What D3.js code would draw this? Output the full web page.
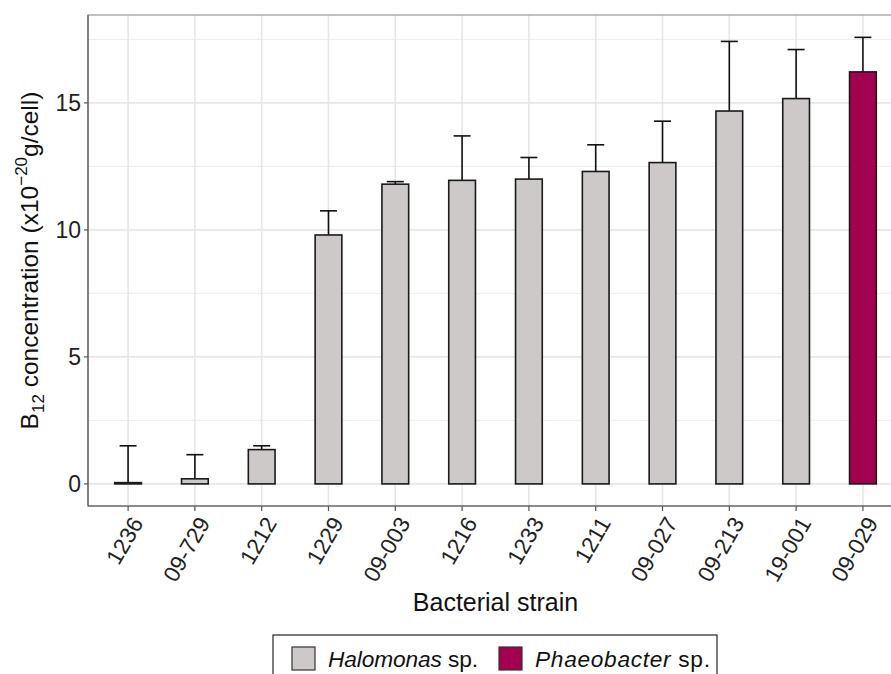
<!DOCTYPE html>
<html><head><meta charset="utf-8">
<script src="https://cdn.jsdelivr.net/npm/d3@7"></script>
<style>body{margin:0;background:#fff}svg{display:block;font-family:"Liberation Sans",Arial,sans-serif}</style>
</head><body><svg id="c" width="891" height="674"></svg>
<script>
const strains = ["1236","09-729","1212","1229","09-003","1216","1233","1211","09-027","09-213","19-001","09-029"];
const means   = [0.05,0.2,1.35,9.8,11.8,11.95,12.0,12.3,12.65,14.68,15.17,16.22];
const upper   = [1.5,1.15,1.5,10.75,11.9,13.7,12.85,13.35,14.28,17.42,17.1,17.58];
const genus   = ["Halomonas","Halomonas","Halomonas","Halomonas","Halomonas","Halomonas","Halomonas","Halomonas","Halomonas","Halomonas","Halomonas","Phaeobacter"];
const yTicks  = [0,5,10,15];
const legendNames = ["Halomonas","Phaeobacter"];
const colors = {Halomonas:"#cdc9c9", Phaeobacter:"#a3004f"};

const svg = d3.select("#c");
const L=88, T=15, R=903, B=506;
// ggplot-style discrete expansion: 0.6 units on each side
const x = d3.scalePoint().domain(strains).range([L,R]).padding(0.6);
const step = x.step();
const y = d3.scaleLinear().domain([-0.87,18.46]).range([B,T]);

// grid
const g = svg.append("g");
[2.5,7.5,12.5,17.5].forEach(v=>g.append("line").attr("x1",L).attr("x2",R).attr("y1",y(v)).attr("y2",y(v)).attr("stroke","#ececec").attr("stroke-width",1));
yTicks.forEach(v=>g.append("line").attr("x1",L).attr("x2",R).attr("y1",y(v)).attr("y2",y(v)).attr("stroke","#e6e6e6").attr("stroke-width",1.6));
strains.forEach(s=>g.append("line").attr("x1",x(s)).attr("x2",x(s)).attr("y1",T).attr("y2",B).attr("stroke","#e6e6e6").attr("stroke-width",1.6));

const bw = step*0.4, cap = 17;
// error bars
strains.forEach((s,i)=>{
  const cx = x(s);
  svg.append("line").attr("x1",cx).attr("x2",cx).attr("y1",y(means[i])).attr("y2",y(upper[i])).attr("stroke","#111").attr("stroke-width",1.6);
  svg.append("line").attr("x1",cx-cap/2).attr("x2",cx+cap/2).attr("y1",y(upper[i])).attr("y2",y(upper[i])).attr("stroke","#111").attr("stroke-width",1.6);
});
// bars
svg.selectAll("rect.bar").data(strains).enter().append("rect").attr("class","bar")
  .attr("x",d=>x(d)-bw/2).attr("width",bw)
  .attr("y",(d,i)=>y(means[i])).attr("height",(d,i)=>y(0)-y(means[i]))
  .attr("fill",(d,i)=>colors[genus[i]]).attr("stroke","#1a1a1a").attr("stroke-width",1.6);

// panel border
svg.append("rect").attr("x",L).attr("y",T).attr("width",R-L).attr("height",B-T).attr("fill","none").attr("stroke","#999").attr("stroke-width",1.2);
svg.append("line").attr("x1",L).attr("x2",L).attr("y1",T).attr("y2",B).attr("stroke","#555").attr("stroke-width",1.2);
svg.append("line").attr("x1",L).attr("x2",R).attr("y1",B).attr("y2",B).attr("stroke","#555").attr("stroke-width",1.2);

// y axis ticks
yTicks.forEach(v=>{
  svg.append("line").attr("x1",L-4).attr("x2",L).attr("y1",y(v)).attr("y2",y(v)).attr("stroke","#555").attr("stroke-width",1.2);
  svg.append("text").attr("x",L-7).attr("y",y(v)).attr("dy","0.36em").attr("text-anchor","end").attr("font-size",23).attr("fill","#222").text(v);
});
// x ticks
strains.forEach(s=>{
  svg.append("line").attr("x1",x(s)).attr("x2",x(s)).attr("y1",B).attr("y2",B+5).attr("stroke","#555").attr("stroke-width",1.2);
  svg.append("text").attr("transform",`translate(${x(s)+9},${B+13}) rotate(-60)`).attr("text-anchor","end").attr("dy","0.35em").attr("font-size",22.5).attr("fill","#222").text(s);
});
// axis titles
svg.append("text").attr("x",495.5).attr("y",611).attr("text-anchor","middle").attr("font-size",25).attr("fill","#111").text("Bacterial strain");
const yt = svg.append("text").attr("transform",`translate(38,${(T+B)/2}) rotate(-90)`).attr("text-anchor","middle").attr("font-size",24.5).attr("fill","#111");
yt.append("tspan").text("B");
yt.append("tspan").attr("font-size",17).attr("dy",6).text("12");
yt.append("tspan").attr("dy",-6).text(" concentration (x10");
yt.append("tspan").attr("font-size",17).attr("dy",-11).text("\u221220");
yt.append("tspan").attr("dy",11).text("g/cell)");

// legend
svg.append("rect").attr("x",273).attr("y",635).attr("width",444).attr("height",50).attr("fill","#fff").attr("stroke","#222").attr("stroke-width",1.2);
const lx = [292, 499];
const lw = [150, 175];
legendNames.forEach((n,i)=>{
  svg.append("rect").attr("x",lx[i]).attr("y",647).attr("width",23).attr("height",23).attr("fill",colors[n]).attr("stroke","#333").attr("stroke-width",1.2);
  const t = svg.append("text").attr("x",lx[i]+36).attr("y",658.5).attr("dy","0.36em").attr("font-size",22.7).attr("fill","#111")
    .attr("textLength",lw[i]).attr("lengthAdjust","spacing");
  t.append("tspan").attr("font-style","italic").text(n);
  t.append("tspan").text(" sp.");
});
</script></body></html>
